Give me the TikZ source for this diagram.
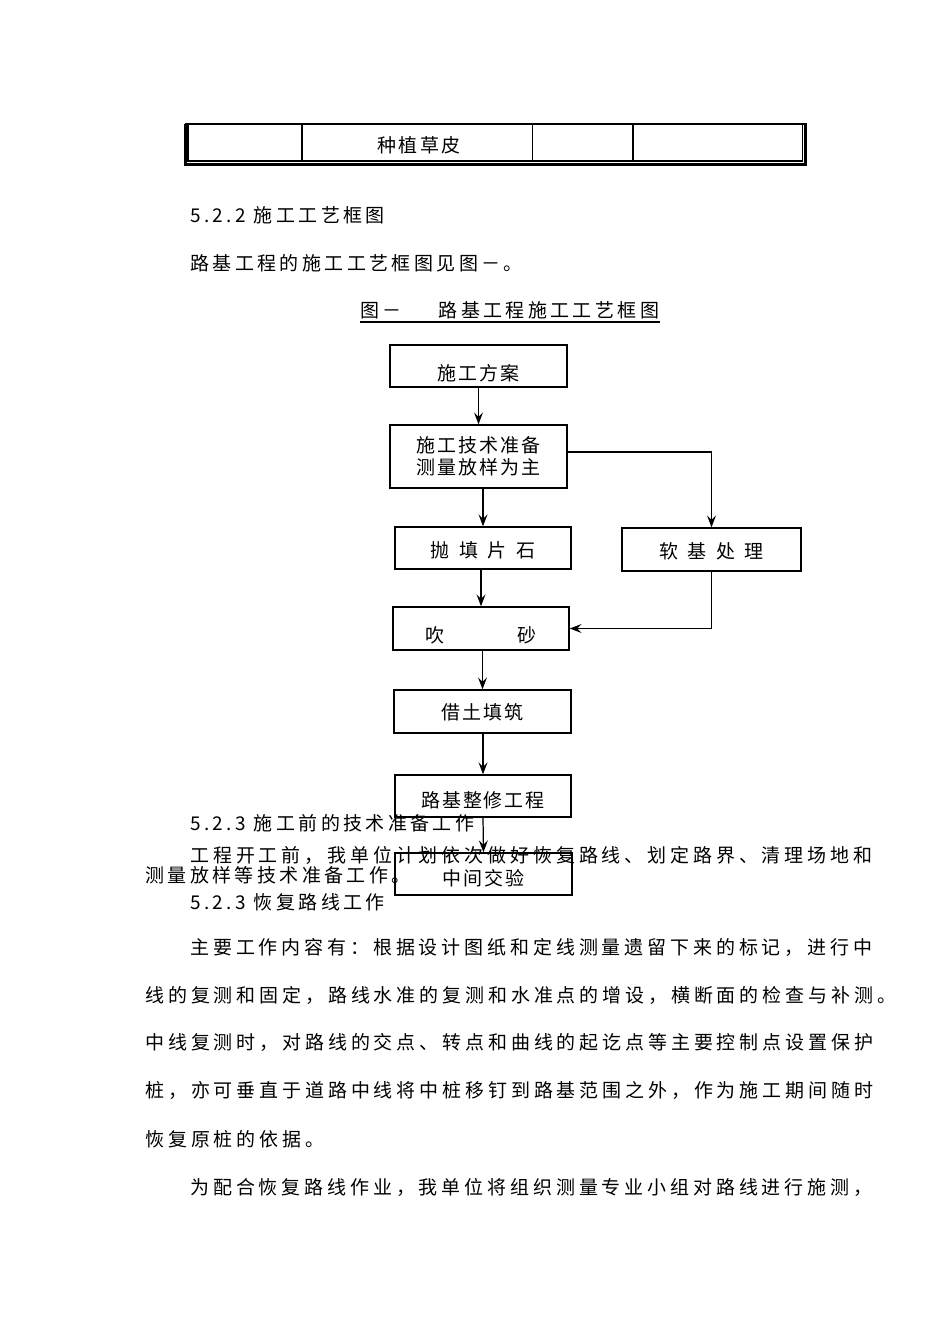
\documentclass[tikz,border=0pt]{standalone}
\usepackage{fontspec}
\setmainfont{Noto Sans CJK SC}
\newfontfamily\headfont{Noto Sans CJK SC}[LetterSpace=18]
\newfontfamily\bodyfont{Noto Sans CJK SC}[LetterSpace=20.5]
\newfontfamily\boxfont{Noto Sans CJK SC}[LetterSpace=10.5]
\newfontfamily\cellfont{Noto Sans CJK SC}[LetterSpace=14]
\usepackage{tikz}
\usetikzlibrary{arrows.meta,positioning,calc}
\newcommand{\lowered}[2]{\raisebox{-#1}[\height][\depth]{#2}}

\begin{document}
\begin{tikzpicture}[
    x=0.02cm, y=-0.02cm,
    box/.style={draw, line width=0.8pt, minimum width=3.54cm, minimum height=0.84cm, inner sep=0pt, align=center, font=\boxfont\fontsize{10.8}{12.5}\selectfont},
    arrow/.style={-{Stealth[length=2.4mm, width=1.8mm, inset=0.9mm]}, line width=0.7pt},
    txt/.style={anchor=west, inner sep=0pt, font=\headfont\fontsize{10.8}{12}\selectfont},
    body/.style={txt, font=\bodyfont\fontsize{10.8}{12}\selectfont},
]
    \path[use as bounding box, fill=white] (0,0) rectangle (950,1344);

    % Table row at the top
    \draw[line width=0.6pt] (188,124) rectangle (802.5,161);
    \draw[line width=0.8pt] (184.5,124) -- (806.5,124);
    \draw[line width=1.5pt] (185.5,124) -- (185.5,164.5) -- (805.5,164.5) -- (805.5,124);
    \foreach \x in {302,532.5,633}
        \draw[line width=0.6pt] (\x,124) -- (\x,161);
    \node[inner sep=0pt, font=\cellfont\fontsize{10.8}{12}\selectfont] (cell) at (419,145) {种植草皮};

    % Headings and caption
    \node[txt] (sec2) at (190,215) {5.2.2 施工工艺框图};
    \node[txt] (intro) at (190,263.5) {路基工程的施工工艺框图见图－。};
    \node[txt] (cap) at (360,310) {图－\hspace{21pt}路基工程施工工艺框图};
    \draw[line width=0.6pt] (360,322) -- (660,322);

    % Flow boxes
    \node[box] (plan) at (478.5,366) {\lowered{4pt}{施工方案}};
    \node[box, minimum height=1.26cm] (prep) at (478.5,456.5) {施工技术准备\\测量放样为主};
    \node[box, minimum width=3.52cm] (stone) at (483,548) {\lowered{1.1pt}{抛\hspace{0.51em}填\hspace{0.51em}片\hspace{0.51em}石}};
    \node[box, minimum width=3.58cm, minimum height=0.86cm] (soft) at (711.5,549.5) {\lowered{1.1pt}{软\hspace{0.51em}基\hspace{0.51em}处\hspace{0.51em}理}};
    \node[box, minimum width=3.52cm, minimum height=0.86cm] (sand) at (481,628.5) {\lowered{3.7pt}{吹\hspace{3.8em}砂}};
    \node[box, minimum height=0.86cm] (soil) at (482.5,711.5) {\lowered{0.6pt}{借土填筑}};
    \node[box, minimum width=3.52cm] (trim) at (483,796) {\lowered{2.3pt}{路基整修工程}};
    \node[box] (check) at (483.5,874) {\lowered{2.3pt}{中间交验}};

    % Connectors
    \draw[arrow] (plan.south) -- (prep.north);
    \draw[arrow] (prep.south -| stone.north) -- (stone.north);
    \draw[arrow] ($(prep.east)+(0,-4.5)$) -| (soft.north);
    \draw[arrow] (stone.south -| sand.north) -- (sand.north);
    \draw[arrow] (soft.south) |- (sand.east);
    \draw[arrow] (sand.south -| soil.north) -- (soil.north);
    \draw[arrow] (soil.south -| trim.north) -- (trim.north);
    \draw[arrow] (trim.south) -- (check.north);

    % Text running over the chart
    \node[txt] (sec3) at (190,823.5) {5.2.3 施工前的技术准备工作};
    \node[body] (prep1) at (190,855.5) {工程开工前，我单位计划依次做好恢复路线、划定路界、清理场地和};
    \node[txt] (prep2) at (145,875.5) {测量放样等技术准备工作。};
    \node[txt] (sec4) at (190,902.5) {5.2.3 恢复路线工作};

    % Body paragraphs
    \node[body] (par1) at (190,947.5) {主要工作内容有：根据设计图纸和定线测量遗留下来的标记，进行中};
    \node[body] (par2) at (145,995.5) {线的复测和固定，路线水准的复测和水准点的增设，横断面的检查与补测。};
    \node[body] (par3) at (145,1042.5) {中线复测时，对路线的交点、转点和曲线的起讫点等主要控制点设置保护};
    \node[body] (par4) at (145,1090.5) {桩，亦可垂直于道路中线将中桩移钉到路基范围之外，作为施工期间随时};
    \node[body] (par5) at (145,1139.5) {恢复原桩的依据。};
    \node[body] (par6) at (190,1187.5) {为配合恢复路线作业，我单位将组织测量专业小组对路线进行施测，};
\end{tikzpicture}
\end{document}
